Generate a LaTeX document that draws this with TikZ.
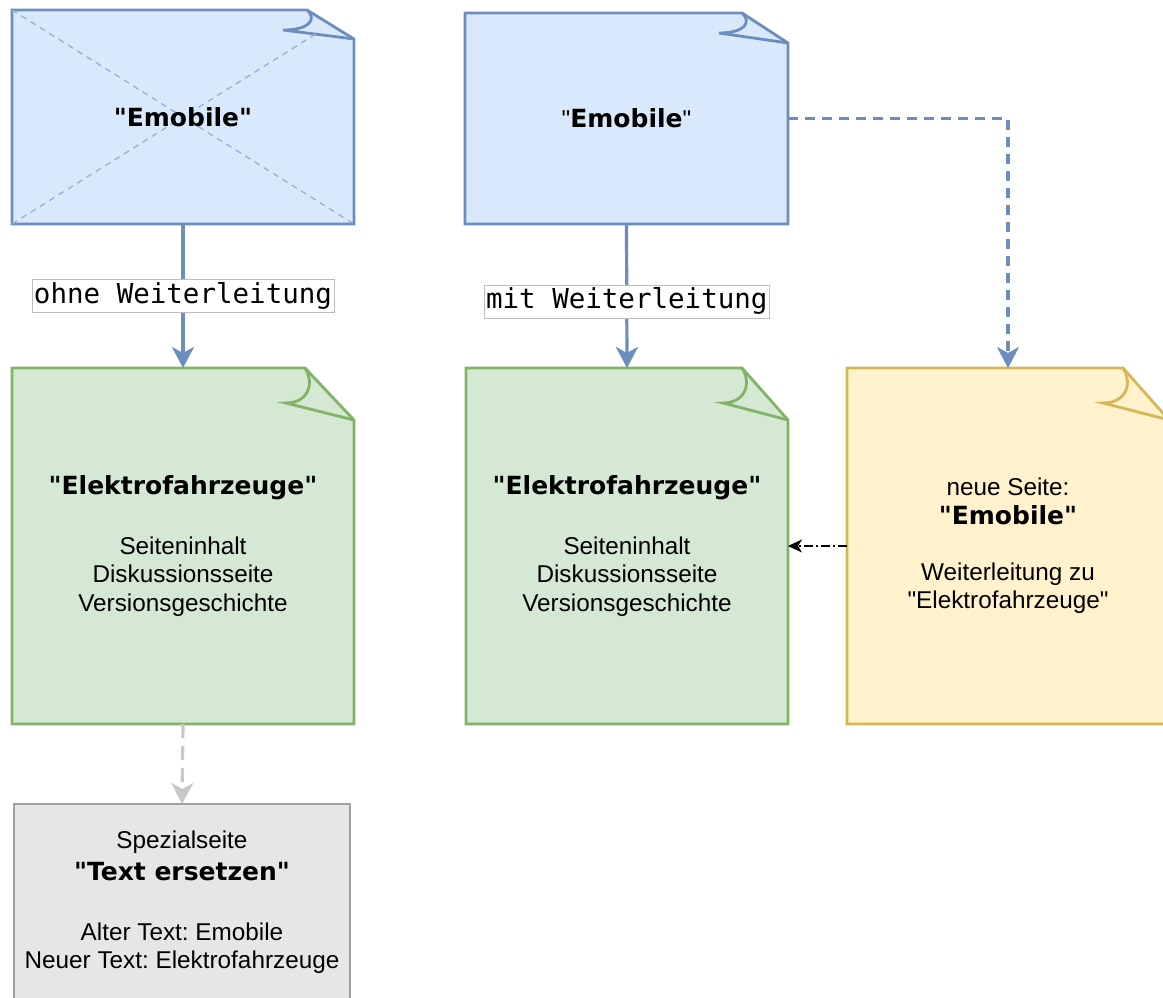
\documentclass[tikz,border=0pt]{standalone}
\usepackage{fontspec}
\newfontfamily\libsans{Liberation Sans}
\newfontfamily\dvs{DejaVu Sans}
\newfontfamily\monofnt{DejaVu Sans Mono}
\usetikzlibrary{arrows.meta,calc}
\pgfdeclarelayer{background}
\pgfsetlayers{background,main}
\definecolor{bluefill}{HTML}{DAE8FC}
\definecolor{blueline}{HTML}{6C8EBF}
\definecolor{xlinecol}{HTML}{8FB0E0}
\definecolor{greenfill}{HTML}{D5E8D4}
\definecolor{greenline}{HTML}{82B366}
\definecolor{yellowfill}{HTML}{FFF2CC}
\definecolor{yellowline}{HTML}{D6B656}
\definecolor{grayfill}{HTML}{E6E6E6}
\definecolor{grayline}{HTML}{A0A0A0}
\definecolor{grayarrow}{HTML}{C8C8C8}
\definecolor{labelgray}{HTML}{BDBDBD}
\newcommand\titletext[1]{{\dvs\bfseries\fontsize{25}{28.5}\selectfont #1}}
% #1 node, #2 stroke, #3 fill, #4 fold top offset, #5 fold right offset, #6 inner x, #7 inner y
\newcommand\notefold[7]{%
  \filldraw[bd, draw=#2, fill=#3] (#1.south west) -- (#1.north west) -- ($(#1.north east)+(-#4,0)$) -- ($(#1.north east)+(0,#5)$) -- (#1.south east) -- cycle;
  \draw[bd, draw=#2] ($(#1.north east)+(-#4,0)$) .. controls ($(#1.north east)+(-#4+10,#7*0.45)$) and ($(#1.north east)+(-#4+3,#7)$) .. ($(#1.north east)+(-#6,#7)$) -- ($(#1.north east)+(0,#5)$);
}
\begin{document}
\frenchspacing
\begin{tikzpicture}[x=1pt,y=-1pt,
  notenode/.style={rectangle, inner sep=0pt, outer sep=0pt, align=center, font=\libsans\frenchspacing\fontsize{24.3}{28.5}\selectfont},
  bd/.style={line width=2.8pt, line join=miter},
  conn/.style={line width=3.2pt},
  tip/.style={-{Stealth[length=21pt,width=22pt,inset=6pt]}},
  lbl/.style={fill=white, draw=labelgray, line width=0.8pt, font=\monofnt\fontsize{27.5}{30}\selectfont, inner xsep=2pt, inner ysep=3.5pt, text height=20pt, text depth=6pt},
  xline/.style={draw=xlinecol, line width=1.3pt, dash pattern=on 6pt off 5pt}]
\useasboundingbox (0,0) rectangle (1163,997);

\node[notenode, minimum width=342pt, minimum height=214pt] (lb) at (183,117) {\titletext{"Emobile"}};
\node[notenode, minimum width=323pt, minimum height=211pt] (rb) at (626.5,118.5) {"\titletext{Emobile}"};
\node[notenode, minimum width=342pt, minimum height=356pt] (lg) at (183,546)
  {\titletext{"Elektrofahrzeuge"}\\[31pt]Seiteninhalt\\Diskussionsseite\\Versionsgeschichte};
\node[notenode, minimum width=322pt, minimum height=356pt] (mg) at (627,546)
  {\titletext{"Elektrofahrzeuge"}\\[31pt]Seiteninhalt\\Diskussionsseite\\Versionsgeschichte};
\node[notenode, minimum width=322pt, minimum height=356pt] (yl) at (1008,546)
  {neue Seite:\\\titletext{"Emobile"}\\[27.5pt]Weiterleitung zu\\"Elektrofahrzeuge"};
\node[notenode, minimum width=336pt, minimum height=196pt] (gb) at (182,902)
  {Spezialseite\\[3.5pt]\titletext{"Text ersetzen"}\\[31.5pt]Alter Text: Emobile\\Neuer Text: Elektrofahrzeuge};

\begin{pgfonlayer}{background}
  \notefold{lb}{blueline}{bluefill}{47}{29}{71}{20}
  \draw[xline] (lb.north west) -- (lb.south east);
  \draw[xline] (lb.south west) -- ($(lb.south west)!0.9!(lb.north east)$);
  \notefold{rb}{blueline}{bluefill}{46}{30}{69}{20}
  \notefold{lg}{greenline}{greenfill}{49}{52}{68}{35}
  \notefold{mg}{greenline}{greenfill}{46}{52}{65}{35}
  \notefold{yl}{yellowline}{yellowfill}{46}{52}{66}{35}
  \filldraw[bd, draw=grayline, fill=grayfill] (gb.south west) rectangle (gb.north east);
\end{pgfonlayer}

\draw[conn, blueline, tip] (lb.south) -- node[lbl, text=black] {ohne Weiterleitung} (lg.north);
\draw[conn, blueline, tip] (rb.south) -- node[lbl, text=black, pos=0.54] {mit Weiterleitung} (mg.north);
\draw[conn, blueline, dash pattern=on 10pt off 7pt, tip] (rb.east) -| (yl.north);
\draw[line width=1.5pt, black, dash pattern=on 9pt off 3pt on 2pt off 3pt, -{Stealth[length=14pt,width=13pt,inset=4pt]}] (yl.west) -- (mg.east);
\draw[conn, grayarrow, dash pattern=on 14pt off 8pt, tip] (lg.south) -- (gb.north);
\end{tikzpicture}
\end{document}
